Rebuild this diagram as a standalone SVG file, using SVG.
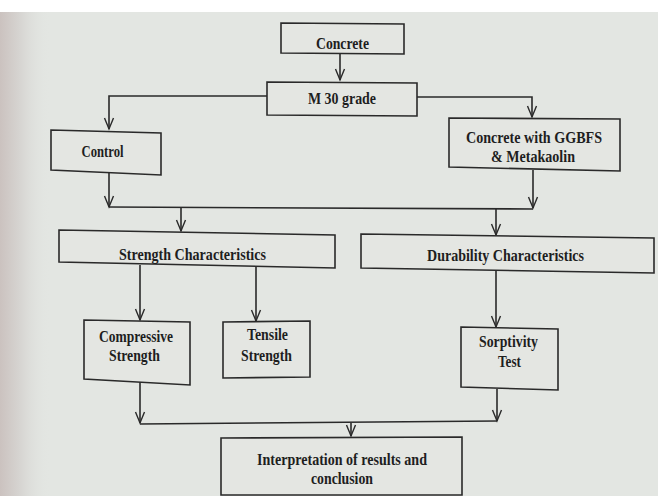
<svg xmlns="http://www.w3.org/2000/svg" width="658" height="496" viewBox="0 0 658 496">
<defs>
<linearGradient id="edge" x1="0" y1="0" x2="1" y2="0">
<stop offset="0" stop-color="#cbc2bf"/>
<stop offset="0.45" stop-color="#d8d7d4"/>
<stop offset="1" stop-color="#e3e6e2" stop-opacity="0"/>
</linearGradient>
<marker id="arr" markerUnits="userSpaceOnUse" markerWidth="14" markerHeight="12" viewBox="-12 -6 14 12" refX="0" refY="0" orient="auto">
<path d="M-11,-4.5 L0,0 L-11,4.5" fill="none" stroke="#2a2a2a" stroke-width="1.4"/>
</marker>
</defs>
<style>
.box{fill:#e4e6e2;stroke:#2a2a2a;stroke-width:1.6}
.t{font-family:"Liberation Serif","Times New Roman",serif;font-weight:bold;font-size:17px;fill:#1e1e1e;text-anchor:middle}
.c{fill:none;stroke:#2a2a2a;stroke-width:1.6}
</style>
<rect x="0" y="0" width="658" height="496" fill="#e3e6e2"/>
<rect x="0" y="12" width="50" height="484" fill="url(#edge)"/>
<rect x="0" y="0" width="658" height="12" fill="#ffffff"/>

<g id="connectors">
<path class="c" d="M340,54 V80" marker-end="url(#arr)"/>
<path class="c" d="M267,96 H109 V129" marker-end="url(#arr)"/>
<path class="c" d="M417,97 H532 V117" marker-end="url(#arr)"/>
<path class="c" d="M109,173 V207" marker-end="url(#arr)"/>
<path class="c" d="M533,170 V208" marker-end="url(#arr)"/>
<path class="c" d="M109,207 L533,209"/>
<path class="c" d="M181,207.5 V231" marker-end="url(#arr)"/>
<path class="c" d="M496,209 V235" marker-end="url(#arr)"/>
<path class="c" d="M140,265 V320" marker-end="url(#arr)"/>
<path class="c" d="M256,267 V321" marker-end="url(#arr)"/>
<path class="c" d="M496,271 V327" marker-end="url(#arr)"/>
<path class="c" d="M140,382 V423" marker-end="url(#arr)"/>
<path class="c" d="M497,389 V421" marker-end="url(#arr)"/>
<path class="c" d="M140,424 L497,421"/>
<path class="c" d="M351,423 V436" marker-end="url(#arr)"/>
</g>

<g id="concrete">
<polygon class="box" points="281,23 404,24 404,54 281,53"/>
<text class="t" x="342.5" y="48.5" textLength="53" lengthAdjust="spacingAndGlyphs">Concrete</text>
</g>
<g id="m30">
<polygon class="box" points="267,82 417,83 417,116 267,115"/>
<text class="t" x="342" y="103.5" textLength="68" lengthAdjust="spacingAndGlyphs">M 30 grade</text>
</g>
<g id="control">
<polygon class="box" points="51,130 161,133 161,175 51,170"/>
<text class="t" x="102.5" y="157" textLength="42" lengthAdjust="spacingAndGlyphs">Control</text>
</g>
<g id="ggbfs">
<polygon class="box" points="449,118 620,119 620,171 449,167"/>
<text class="t" x="534" y="143" textLength="136" lengthAdjust="spacingAndGlyphs">Concrete with GGBFS</text>
<text class="t" x="533" y="162" textLength="84" lengthAdjust="spacingAndGlyphs">&amp; Metakaolin</text>
</g>
<g id="strength">
<polygon class="box" points="59,230 335,235 335,268 59,262"/>
<text class="t" x="192.5" y="260" textLength="147" lengthAdjust="spacingAndGlyphs">Strength Characteristics</text>
</g>
<g id="durability">
<polygon class="box" points="361,234 654,238 654,273 361,268"/>
<text class="t" x="505.5" y="261" textLength="157" lengthAdjust="spacingAndGlyphs">Durability Characteristics</text>
</g>
<g id="compressive">
<polygon class="box" points="84,320 190,322 190,385 84,379"/>
<text class="t" x="136" y="342" textLength="74" lengthAdjust="spacingAndGlyphs">Compressive</text>
<text class="t" x="134.5" y="361" textLength="51" lengthAdjust="spacingAndGlyphs">Strength</text>
</g>
<g id="tensile">
<polygon class="box" points="223,322 310,321 310,377 223,378"/>
<text class="t" x="267.5" y="340" textLength="41" lengthAdjust="spacingAndGlyphs">Tensile</text>
<text class="t" x="266.5" y="361" textLength="51" lengthAdjust="spacingAndGlyphs">Strength</text>
</g>
<g id="sorptivity">
<polygon class="box" points="461,327 558,329 558,390 461,387"/>
<text class="t" x="508.5" y="347" textLength="59" lengthAdjust="spacingAndGlyphs">Sorptivity</text>
<text class="t" x="509.5" y="367" textLength="23" lengthAdjust="spacingAndGlyphs">Test</text>
</g>
<g id="conclusion">
<polygon class="box" points="221,438 462,437 462,495 221,495"/>
<text class="t" x="342" y="465" textLength="170" lengthAdjust="spacingAndGlyphs">Interpretation of results and</text>
<text class="t" x="342" y="484" textLength="62" lengthAdjust="spacingAndGlyphs">conclusion</text>
</g>
</svg>
